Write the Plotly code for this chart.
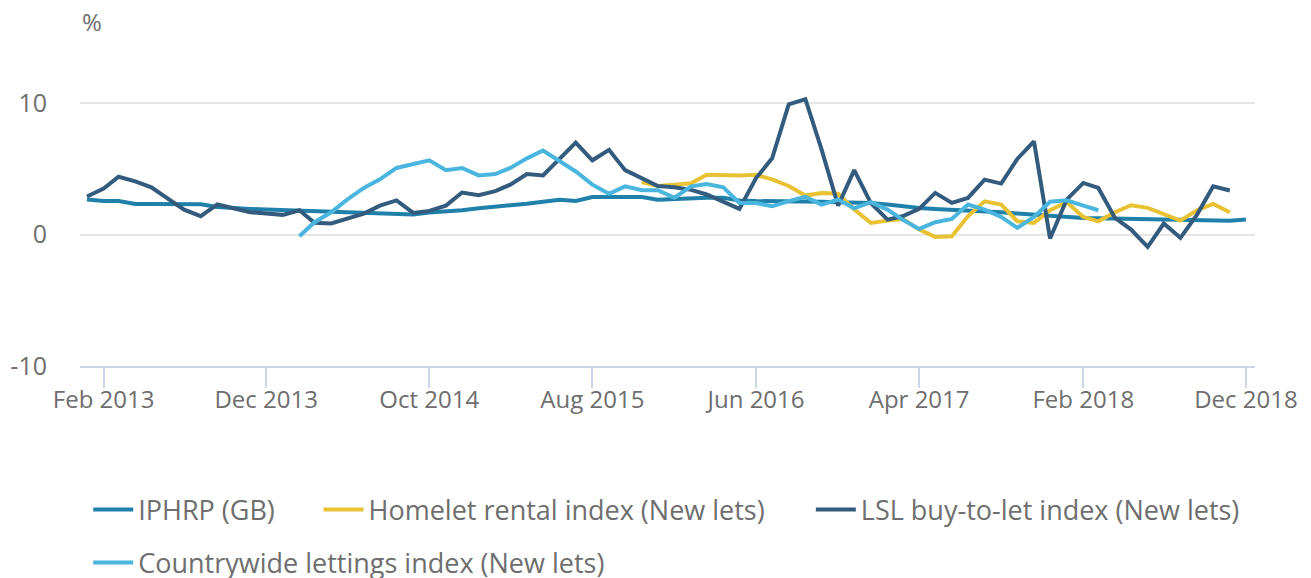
import pandas as pd
import plotly.graph_objects as go

# Monthly series, Jan 2013 - Dec 2018 (% change)
MONTHS = pd.date_range("2013-01-01", "2018-12-01", freq="MS")

iphrp = [
    2.66, 2.55, 2.55, 2.33, 2.33, 2.33, 2.30, 2.30, 2.10, 2.00, 1.95, 1.90,
    1.85, 1.80, 1.78, 1.75, 1.70, 1.66, 1.58, 1.52, 1.52, 1.68, 1.75, 1.85,
    2.00, 2.10, 2.25, 2.35, 2.50, 2.65, 2.55, 2.85, 2.85, 2.85, 2.85, 2.65,
    2.70, 2.80, 2.80, 2.80, 2.60, 2.55, 2.55, 2.50, 2.50, 2.50, 2.45, 2.45,
    2.41, 2.28, 2.15, 2.03, 1.95, 1.90, 1.85, 1.77, 1.70, 1.60, 1.52, 1.39,
    1.30, 1.27, 1.25, 1.22, 1.20, 1.17, 1.14, 1.10, 1.08, 1.06, 1.06, 1.14,
]

# Homelet starts Nov 2015
homelet_start = "2015-11-01"
homelet = [
    4.00, 3.70,
    3.80, 3.90, 4.55, 4.50, 4.50, 4.55, 4.20, 3.70, 2.97, 3.17, 3.10, 1.90,
    0.89, 1.06, 1.19, 0.38, -0.18, -0.13, 1.39, 2.53, 2.28, 1.01, 0.89, 1.85,
    2.46, 1.34, 1.01, 1.70, 2.23, 2.03, 1.52, 1.06, 1.85, 2.33, 1.70,
]

# LSL runs Jan 2013 - Nov 2018
lsl = [
    2.90, 3.50, 4.40, 4.05, 3.60, 2.70, 1.90, 1.40, 2.30, 2.00, 1.70, 1.60,
    1.50, 1.85, 0.90, 0.85, 1.25, 1.60, 2.20, 2.60, 1.65, 1.80, 2.20, 3.20,
    3.00, 3.30, 3.80, 4.60, 4.50, 5.80, 7.00, 5.65, 6.45, 4.90, 4.30, 3.70,
    3.60, 3.40, 3.05, 2.50, 1.95, 4.30, 5.80, 9.90, 10.30, 6.50, 2.20, 4.90,
    2.40, 1.14, 1.39, 1.95, 3.17, 2.41, 2.79, 4.18, 3.88, 5.75, 7.10, -0.30,
    2.66, 3.93, 3.55, 1.27, 0.38, -0.94, 0.84, -0.25, 1.52, 3.68, 3.35,
]

# Countrywide runs Feb 2014 - Mar 2018
countrywide_start = "2014-02-01"
countrywide = [
    -0.13, 0.94, 1.70, 2.66, 3.55, 4.20, 5.07, 5.40, 5.65, 4.90, 5.07,
    4.50, 4.60, 5.07, 5.80, 6.40, 5.57, 4.80, 3.80, 3.10, 3.67, 3.37, 3.37,
    2.80, 3.67, 3.85, 3.60, 2.40, 2.40, 2.15, 2.55, 2.87, 2.28, 2.66, 2.00,
    2.46, 1.90, 1.14, 0.43, 0.94, 1.19, 2.28, 1.90, 1.34, 0.51, 1.34, 2.50,
    2.61, 2.20, 1.85,
]

y_ticks = [-10, 0, 10]
y_tick_labels = ["-10", "0", "10"]

SERIES = [
    ("IPHRP (GB)", MONTHS[: len(iphrp)], iphrp, "#1f80aa"),
    ("Homelet rental index (New lets)",
     pd.date_range(homelet_start, periods=len(homelet), freq="MS"), homelet, "#e8c233"),
    ("LSL buy-to-let index (New lets)", MONTHS[: len(lsl)], lsl, "#335b7d"),
    ("Countrywide lettings index (New lets)",
     pd.date_range(countrywide_start, periods=len(countrywide), freq="MS"), countrywide, "#4ab6df"),
]

# one legend per entry so the rows can be laid out like the original
LEGEND_POS = [(0.007, -0.522), (0.203, -0.522), (0.622, -0.522), (0.007, -0.714)]
LEGEND_IDS = ["legend", "legend2", "legend3", "legend4"]

FONT = "Open Sans, sans-serif"
GREY = "#6e6e6e"

fig = go.Figure()
for (name, x, y, color), lid in zip(SERIES, LEGEND_IDS):
    fig.add_trace(
        go.Scatter(
            x=x,
            y=y,
            name=name,
            mode="lines",
            line=dict(color=color, width=4),
            cliponaxis=False,
            hoverinfo="skip",
            legend=lid,
        )
    )

legend_layout = {}
for lid, (lx, ly) in zip(LEGEND_IDS, LEGEND_POS):
    legend_layout[lid] = dict(
        orientation="h",
        x=lx,
        xanchor="left",
        y=ly,
        yanchor="middle",
        font=dict(size=27, color=GREY),
        itemwidth=40,
        bgcolor="rgba(0,0,0,0)",
    )

# the page body adds an 8px offset, so the figure is 8px smaller than the window
fig.update_layout(
    width=1303,
    height=570,
    margin=dict(l=72, r=56, t=82, b=212, autoexpand=False),
    paper_bgcolor="white",
    plot_bgcolor="white",
    font=dict(family=FONT, color=GREY, size=24),
    showlegend=True,
    xaxis=dict(
        type="date",
        range=["2012-12-19", "2018-12-18"],
        tick0="2013-02-01",
        dtick="M10",
        tickformat="%b %Y",
        ticks="outside",
        ticklen=20,
        tickcolor="#ccd6eb",
        tickwidth=1.5,
        ticklabelstandoff=-9,
        showline=True,
        linecolor="#ccd6eb",
        linewidth=2,
        showgrid=False,
        zeroline=False,
        automargin=False,
        tickfont=dict(size=24, color=GREY),
    ),
    yaxis=dict(
        range=[-10, 11],
        tickvals=y_ticks,
        ticktext=y_tick_labels,
        showgrid=True,
        gridcolor="#e6e6e6",
        gridwidth=1.5,
        zeroline=False,
        ticks="",
        ticklabelstandoff=32,
        automargin=False,
        tickfont=dict(size=25, color=GREY),
    ),
    annotations=[
        dict(
            text="%",
            xref="paper",
            yref="paper",
            x=0.0,
            y=1.25,
            xanchor="left",
            yanchor="middle",
            showarrow=False,
            font=dict(size=24, color=GREY),
        )
    ],
    **legend_layout,
)

fig.write_html("out.html")
